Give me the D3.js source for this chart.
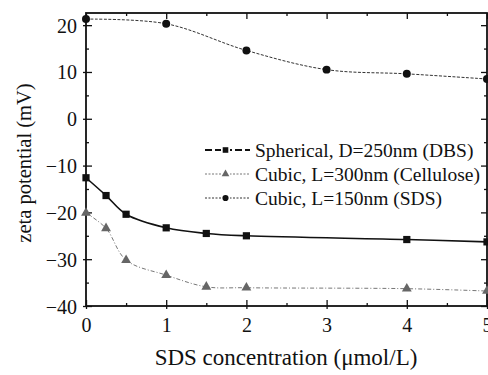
<!DOCTYPE html>
<html><head><meta charset="utf-8">
<script src="https://cdn.jsdelivr.net/npm/d3@7"></script>
<style>body{margin:0;background:#fff}</style>
</head><body><svg id="c" width="488" height="375"></svg>
<script>
const xSph = [0, 0.25, 0.5, 1, 1.5, 2, 4, 5];
const ySph = [-12.6, -16.4, -20.4, -23.3, -24.5, -25.0, -25.8, -26.3];
const xCel = [0, 0.25, 0.5, 1, 1.5, 2, 4, 5];
const yCel = [-20.1, -23.4, -30.2, -33.4, -35.9, -36.1, -36.3, -36.8];
const xSds = [0, 1, 2, 3, 4, 5];
const ySds = [21.3, 20.3, 14.6, 10.5, 9.6, 8.5];
const xTicks = [0, 1, 2, 3, 4, 5];
const yTicks = [20, 10, 0, -10, -20, -30, -40];
const legendLabels = ["Spherical, D=250nm (DBS)", "Cubic, L=300nm (Cellulose)", "Cubic, L=150nm (SDS)"];

const FONT = "'Liberation Serif', 'DejaVu Serif', serif";
const svg = d3.select("#c");
const L = 86, R = 487, T = 13, B = 306;
const x = d3.scaleLinear().domain([0, 5]).range([L, R]);
const y = d3.scaleLinear().domain([-40, 22.6]).range([B, T]);

const g = svg.append("g");
function styleLabels(a) { a.selectAll("text").attr("font-family", null).style("font-family", FONT).style("font-size", "20px").attr("fill", "#111"); }
function noDom(a) { a.select(".domain").remove(); }
const xMinor = d3.range(0.5, 5, 1), yMinor = d3.range(-35, 21, 10);
// bottom
g.append("g").attr("transform", `translate(0,${B})`)
  .call(d3.axisBottom(x).tickValues(xTicks).tickSizeInner(-6).tickSizeOuter(0).tickFormat(d3.format("d")))
  .call(a => { noDom(a); a.selectAll("text").attr("dy", 0).attr("y", 26); styleLabels(a); });
g.append("g").attr("transform", `translate(0,${B})`)
  .call(d3.axisBottom(x).tickValues(xTicks).tickSizeInner(3).tickSizeOuter(0).tickFormat("")).call(noDom);
g.append("g").attr("transform", `translate(0,${B})`)
  .call(d3.axisBottom(x).tickValues(xMinor).tickSizeInner(-3).tickSizeOuter(0).tickFormat("")).call(noDom);
// left
g.append("g").attr("transform", `translate(${L},0)`)
  .call(d3.axisLeft(y).tickValues(yTicks).tickSizeInner(-6).tickSizeOuter(0).tickFormat(d3.format("d")))
  .call(a => { noDom(a); a.selectAll("text").attr("x", -9).attr("dy", "0.35em"); styleLabels(a); });
g.append("g").attr("transform", `translate(${L},0)`)
  .call(d3.axisLeft(y).tickValues(yTicks).tickSizeInner(3).tickSizeOuter(0).tickFormat("")).call(noDom);
g.append("g").attr("transform", `translate(${L},0)`)
  .call(d3.axisLeft(y).tickValues(yMinor).tickSizeInner(-3).tickSizeOuter(0).tickFormat("")).call(noDom);
// top / right mirrors
g.append("g").attr("transform", `translate(0,${T})`)
  .call(d3.axisTop(x).tickValues(xTicks).tickSizeInner(-6).tickSizeOuter(0).tickFormat("")).call(noDom);
g.append("g").attr("transform", `translate(0,${T})`)
  .call(d3.axisTop(x).tickValues(xMinor).tickSizeInner(-3).tickSizeOuter(0).tickFormat("")).call(noDom);
g.append("g").attr("transform", `translate(${R},0)`)
  .call(d3.axisRight(y).tickValues(yTicks).tickSizeInner(-6).tickSizeOuter(0).tickFormat("")).call(noDom);
g.append("g").attr("transform", `translate(${R},0)`)
  .call(d3.axisRight(y).tickValues(yMinor).tickSizeInner(-3).tickSizeOuter(0).tickFormat("")).call(noDom);
g.selectAll(".tick line").attr("stroke", "#111").attr("stroke-width", 1.3);
svg.append("rect").attr("x", L).attr("y", T).attr("width", R - L).attr("height", B - T)
  .attr("fill", "none").attr("stroke", "#111").attr("stroke-width", 1.8);

svg.append("text").attr("x", 286).attr("y", 365).attr("text-anchor", "middle")
  .style("font-family", FONT).style("font-size", "23px").attr("fill", "#111")
  .text("SDS concentration (μmol/L)");
svg.append("text").attr("transform", "translate(31,163) rotate(-90)").attr("text-anchor", "middle")
  .style("font-family", FONT).style("font-size", "20.5px").attr("fill", "#111")
  .text("zeta potential (mV)");

const series = [
  {xs: xSph, ys: ySph, dash: null, w: 1.6, col: "#111", shape: d3.symbolSquare, size: 52},
  {xs: xCel, ys: yCel, dash: "4,2,1,2", w: 1, col: "#777", shape: d3.symbolTriangle, size: 42},
  {xs: xSds, ys: ySds, dash: "3,1.5", w: 1, col: "#333", shape: d3.symbolCircle, size: 50}
];
const line = d3.line().x(d => x(d[0])).y(d => y(d[1])).curve(d3.curveCatmullRom.alpha(0.5));
series.forEach(s => {
  const pts = s.xs.map((v, i) => [v, s.ys[i]]);
  svg.append("path").attr("d", line(pts)).attr("fill", "none").attr("stroke", s.col)
    .attr("stroke-width", s.w).attr("stroke-dasharray", s.dash);
  svg.selectAll(null).data(pts).enter().append("path")
    .attr("d", d3.symbol().type(s.shape).size(s.size))
    .attr("transform", d => `translate(${x(d[0])},${y(d[1])})`)
    .attr("fill", s.shape === d3.symbolTriangle ? "#666" : "#111");
});

const legDash = ["7,3", "2,1.5", "2,1.5"];
const rowsY = [150, 174, 198];
legendLabels.forEach((lab, i) => {
  const s = series[i];
  svg.append("line").attr("x1", 205).attr("x2", 250).attr("y1", rowsY[i]).attr("y2", rowsY[i])
    .attr("stroke", s.col).attr("stroke-width", i === 0 ? 1.8 : 1).attr("stroke-dasharray", legDash[i]);
  svg.append("rect").attr("x", 221).attr("y", rowsY[i] - 4).attr("width", 9).attr("height", 8).attr("fill", "#fff");
  svg.append("path").attr("d", d3.symbol().type(s.shape).size(s.size * 0.6)())
    .attr("transform", `translate(225.5,${rowsY[i]})`).attr("fill", s.shape === d3.symbolTriangle ? "#666" : "#111");
  svg.append("text").attr("x", 255).attr("y", rowsY[i]).attr("dy", "0.35em")
    .style("font-family", FONT).style("font-size", "19.5px").attr("fill", "#111").text(lab);
});
</script></body></html>
